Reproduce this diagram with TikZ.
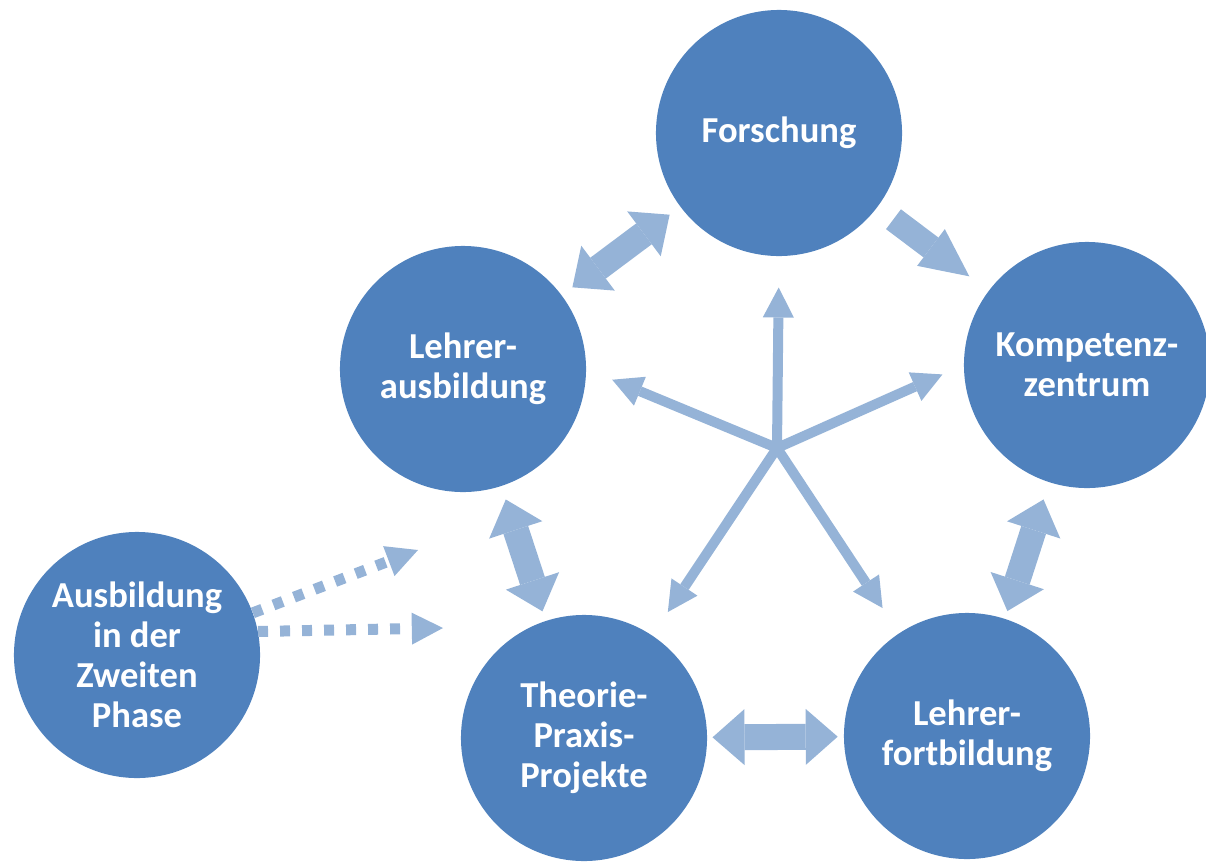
\documentclass[tikz,border=0pt]{standalone}
\usepackage{fontspec}
\setmainfont{Carlito}
\usetikzlibrary{arrows.meta}
\definecolor{circblue}{HTML}{4F81BD}
\definecolor{arrblue}{HTML}{95B3D7}

\begin{document}
\begin{tikzpicture}[line cap=butt,line join=miter,x=0.025cm,y=-0.025cm,
	circ/.style={circle,fill=circblue,minimum size=6.15cm,inner sep=0pt,text=white,align=center,
		font=\fontsize{26}{28.5}\selectfont\bfseries},
	blockarrow/.style={draw=arrblue,line width=0.65cm,
		{Triangle[length=0.8cm,width=1.4cm,line width=0pt]}-{Triangle[length=0.8cm,width=1.4cm,line width=0pt]}},
	bigarrow/.style={draw=arrblue,line width=0.62cm,-{Triangle[length=1.2cm,width=1.15cm,line width=0pt]}},
	stararrow/.style={draw=arrblue,line width=0.25cm,-{Triangle[length=0.75cm,width=0.78cm,line width=0pt]}},
	dotarrow/.style={draw=arrblue,line width=0.275cm,dash pattern=on 0.25cm off 0.3cm,
		-{Triangle[length=0.78cm,width=0.8cm,line width=0pt]}}]
		\useasboundingbox (0,0) rectangle (1206,862);
		% circles
		\node[circ] (F) at (779,133) {Forschung};
		\node[circ] (LA) at (463,369) {Lehrer-\\ausbildung};
		\node[circ] (K) at (1087,365) {Kompetenz-\\zentrum};
		\node[circ] (A2) at (137,655) {Ausbildung\\in der\\Zweiten\\Phase};
		\node[circ] (TPP) at (584,738) {Theorie-\\Praxis-\\Projekte};
		\node[circ] (LF) at (967,736) {Lehrer-\\fortbildung};
		\coordinate (hub) at (777,448);
		\coordinate (dotA) at (418,550);
		\coordinate (dotB) at (443,628);
		% arrows between the circles
		\draw[blockarrow,shorten <=0.33cm,shorten >=0.33cm] (LA) -- (F);
		\draw[bigarrow,shorten <=0.5cm,shorten >=0.6cm] (F) -- (K);
		\draw[blockarrow,shorten <=0.35cm,shorten >=0.25cm] (LA) -- (TPP);
		\draw[blockarrow,shorten <=0.45cm,shorten >=0.2cm] (K) -- (LF);
		\draw[blockarrow,shorten <=0.13cm,shorten >=0.15cm] (TPP) -- (LF);
		% star
		\draw[stararrow,shorten >=0.78cm] (hub) -- (F.south);
		\draw[stararrow,shorten >=0.7cm] (hub) -- (LA.east);
		\draw[stararrow,shorten >=0.58cm] (hub) -- (K.west);
		\draw[stararrow,shorten >=0.7cm] (hub) -- (TPP);
		\draw[stararrow,shorten >=0.75cm] (hub) -- (LF);
		% second phase
		\draw[dotarrow] (A2.20) -- (dotA);
		\draw[dotarrow] (A2.11) -- (dotB);
\end{tikzpicture}
\end{document}
